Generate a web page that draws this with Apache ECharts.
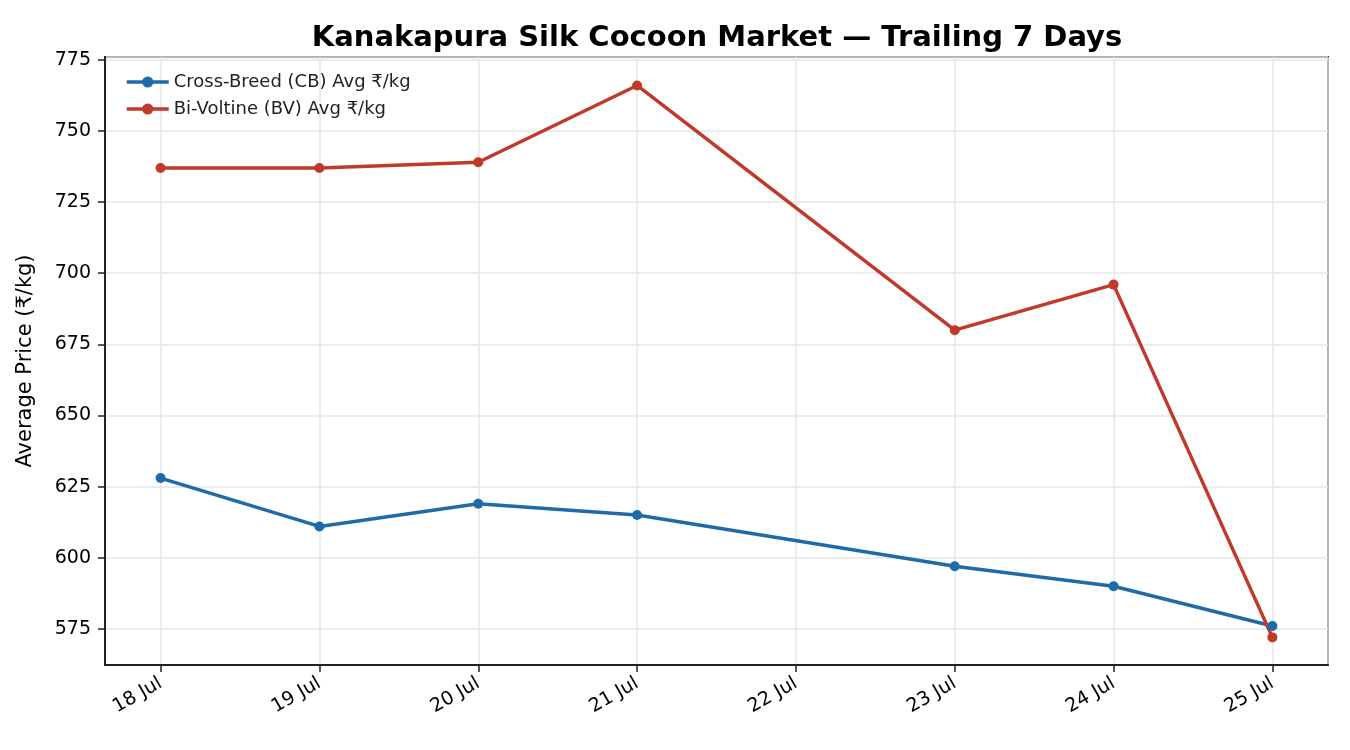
<!DOCTYPE html>
<html>
<head>
<meta charset="utf-8">
<script src="https://cdn.jsdelivr.net/npm/echarts@6/dist/echarts.min.js"></script>
<style>
html, body { margin: 0; padding: 0; background: #fff; }
#chart { width: 1350px; height: 750px; }
</style>
</head>
<body>
<div id="chart"></div>
<script>
// data (22 Jul has no market day)
var days = ['2025-07-18', '2025-07-19', '2025-07-20', '2025-07-21', '2025-07-23', '2025-07-24', '2025-07-25'];
var cbPrice = [628, 611, 619, 615, 597, 590, 576];
var bvPrice = [737, 737, 739, 766, 680, 696, 572];
var monthNames = ['Jan','Feb','Mar','Apr','May','Jun','Jul','Aug','Sep','Oct','Nov','Dec'];

var DAY = 86400000;
function toTime(s) {
    var p = s.split('-');
    return new Date(+p[0], +p[1] - 1, +p[2]).getTime();
}
var times = days.map(toTime);
function pairs(vals) {
    return vals.map(function (v, i) { return [times[i], v]; });
}

var chart = echarts.init(document.getElementById('chart'));
var font = 'DejaVu Sans';

var option = {
    backgroundColor: '#ffffff',
    animation: false,
    title: {
        text: 'Kanakapura Silk Cocoon Market — Trailing 7 Days',
        left: 712, top: 19, textAlign: 'center',
        textStyle: { fontFamily: font, fontSize: 29, fontWeight: 'bold', color: '#000' }
    },
    legend: {
        left: 120, top: 68, orient: 'vertical',
        itemWidth: 42, itemHeight: 14, itemGap: 9,
        lineStyle: { width: 3.5 },
        textStyle: { fontFamily: font, fontSize: 18, color: '#222' },
        data: ['Cross-Breed (CB) Avg ₹/kg', 'Bi-Voltine (BV) Avg ₹/kg']
    },
    grid: {
        left: 105, right: 22, top: 57, bottom: 85,
        show: true, borderColor: '#222', borderWidth: 2, backgroundColor: 'transparent'
    },
    xAxis: {
        type: 'time',
        min: times[0] - 0.35 * DAY,
        max: times[times.length - 1] + 0.35 * DAY,
        minInterval: DAY, maxInterval: DAY,
        axisLine: { show: true, lineStyle: { color: '#222', width: 2 } },
        axisTick: { show: true, length: 7, lineStyle: { color: '#222', width: 1.5 } },
        axisLabel: {
            rotate: 30, margin: 17, showMinLabel: false, showMaxLabel: false,
            fontFamily: font, fontSize: 19, color: '#000',
            formatter: function (v) {
                var d = new Date(v);
                return d.getDate() + ' ' + monthNames[d.getMonth()];
            }
        },
        splitLine: { show: true, lineStyle: { color: '#e6e6e6', width: 1.5 } }
    },
    yAxis: {
        type: 'value',
        min: 562.3, max: 776,
        minInterval: 25, maxInterval: 25,
        name: 'Average Price (₹/kg)',
        nameLocation: 'middle', nameGap: 69, nameRotate: 90,
        nameTextStyle: { fontFamily: font, fontSize: 21, color: '#000' },
        axisLine: { show: true, lineStyle: { color: '#222', width: 2 } },
        axisTick: { show: true, length: 7, lineStyle: { color: '#222', width: 1.5 } },
        axisLabel: {
            showMinLabel: false, showMaxLabel: false, margin: 14,
            fontFamily: font, fontSize: 19, color: '#000'
        },
        splitLine: { show: true, lineStyle: { color: '#e6e6e6', width: 1.5 } }
    },
    series: [
        {
            name: 'Cross-Breed (CB) Avg ₹/kg',
            type: 'line',
            data: pairs(cbPrice),
            color: '#1f6aa8',
            symbol: 'circle', symbolSize: 10,
            lineStyle: { width: 3.5 }
        },
        {
            name: 'Bi-Voltine (BV) Avg ₹/kg',
            type: 'line',
            data: pairs(bvPrice),
            color: '#c0392b',
            symbol: 'circle', symbolSize: 10,
            lineStyle: { width: 3.5 }
        }
    ]
};
chart.setOption(option);
</script>
</body>
</html>
